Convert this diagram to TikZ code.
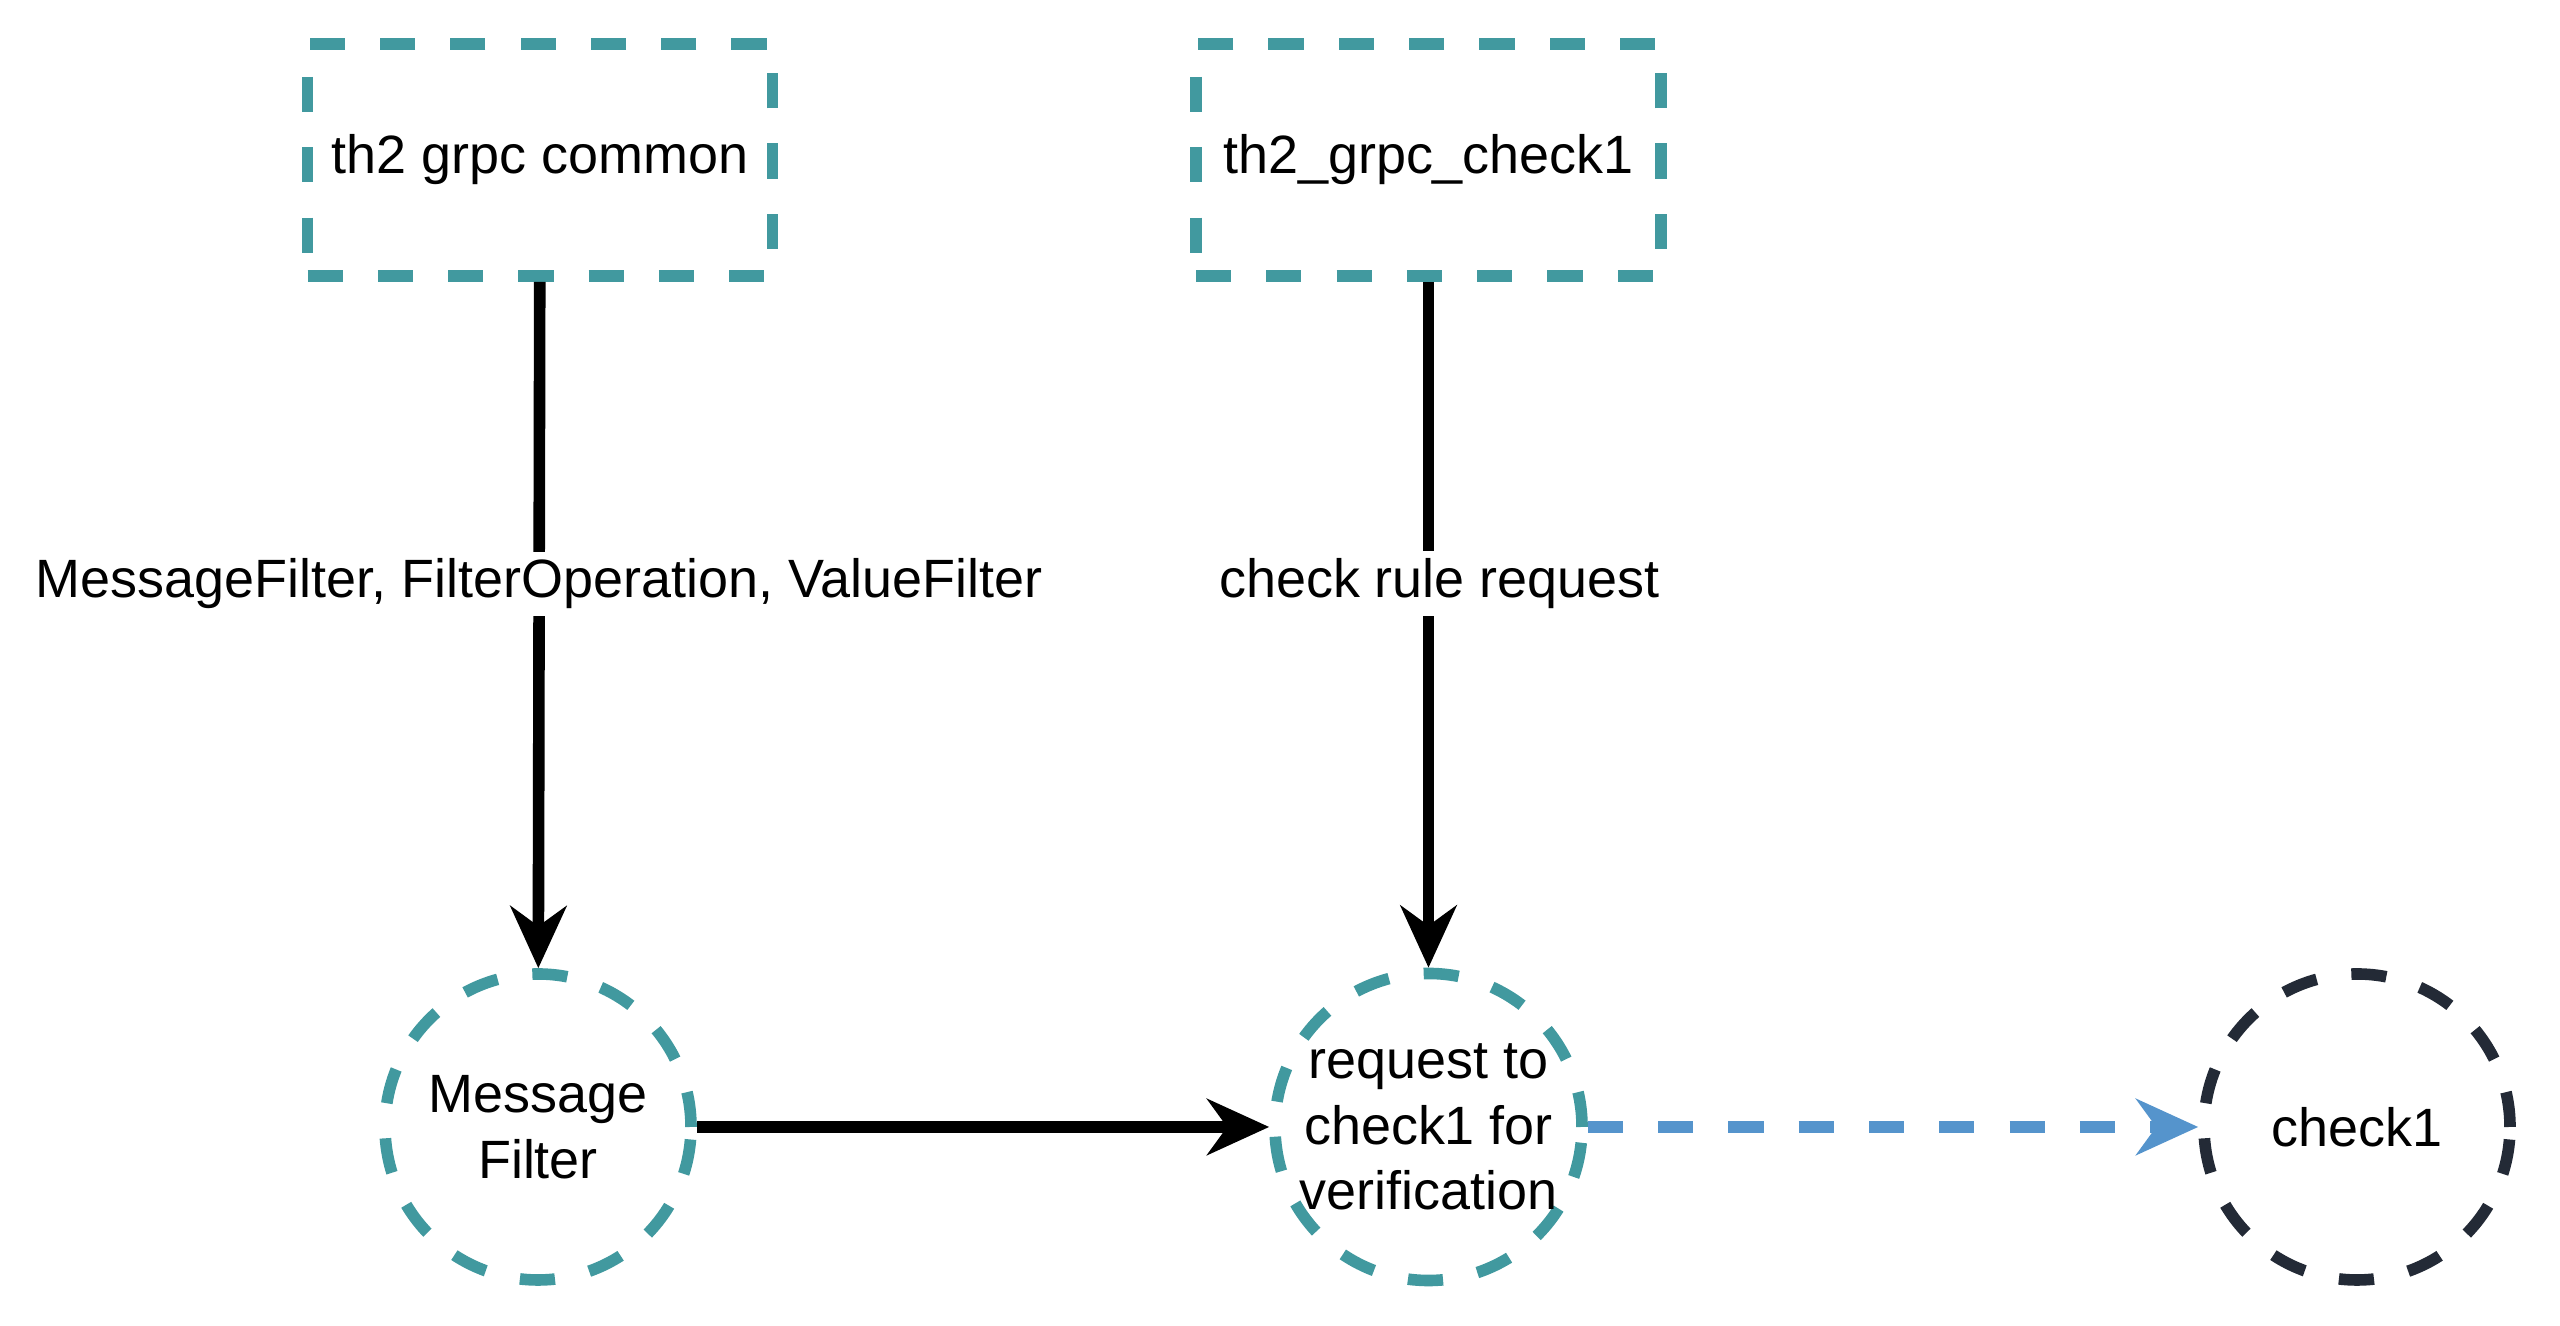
\documentclass[tikz,border=0pt]{standalone}
\usepackage{fontspec}
\setmainfont{Liberation Sans}
\usetikzlibrary{arrows.meta}
\usetikzlibrary{positioning}
\definecolor{tealline}{HTML}{41999F}
\definecolor{navyline}{HTML}{232A36}
\definecolor{blueline}{HTML}{5594CC}
\tikzset{
	protobox/.style={draw=tealline, line width=3.3pt, dash pattern=on 10pt off 10pt, minimum width=4.65cm, minimum height=2.32cm, align=center},
	procnode/.style={circle, draw=tealline, line width=3.3pt, dash pattern=on 10pt off 10pt, minimum size=3.06cm, inner sep=0pt, align=center},
	flow/.style={line width=3.3pt, -{Stealth[length=6.2mm, width=5.6mm, inset=2mm]}},
	flowlabel/.style={fill=white, inner sep=2pt}
}
\begin{document}
\begin{tikzpicture}[font=\fontsize{15.35pt}{18.7pt}\selectfont]
	\useasboundingbox (0,0) rectangle (25.6,13.26);
	\node[protobox] (common) at (5.40,11.66){th2 grpc common};%proto
	\node[protobox] (grpccheck) at (14.285,11.66){th2\_grpc\_check1};%proto
	\node[procnode] (msgfilter) at (5.38,1.99){Message\\Filter};
	\node[procnode] (request) at (14.285,1.99){request to\\check1 for\\verification};
	\node[procnode, draw=navyline] (checkone) at (23.57,1.99){check1};
	\draw[flow] (common) -- node[flowlabel, pos=0.44]{MessageFilter, FilterOperation, ValueFilter} (msgfilter);
	\draw[flow] (grpccheck) -- node[flowlabel, pos=0.44, xshift=0.11cm]{check rule request} (request);
	\draw[flow] (msgfilter) -- (request);
	\draw[flow, blueline, dash pattern=on 10pt off 10pt] (request) -- (checkone);
\end{tikzpicture}
\end{document}
